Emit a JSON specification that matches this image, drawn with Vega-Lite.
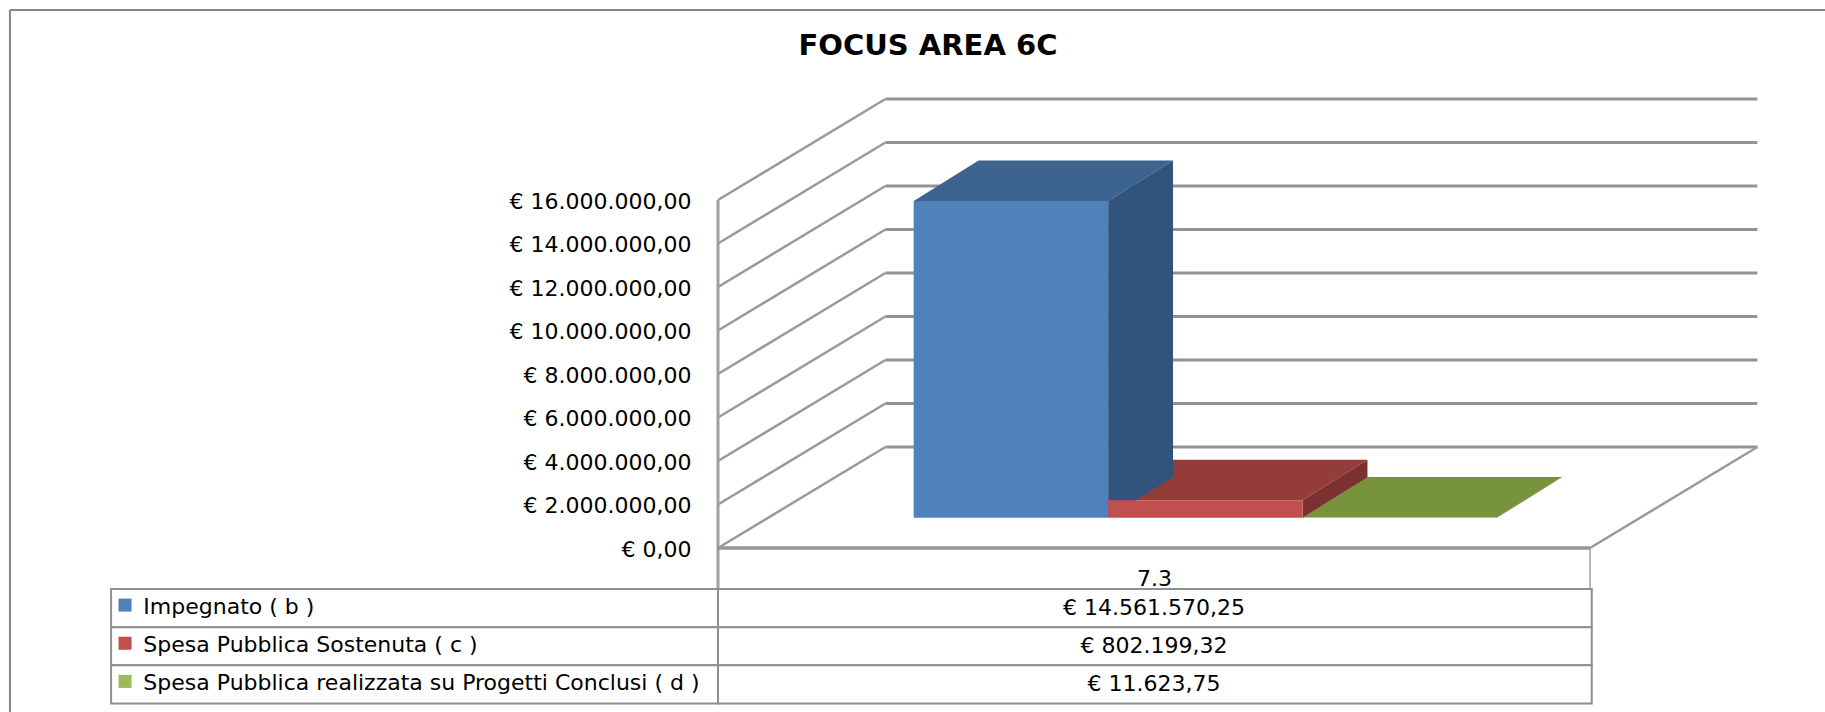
{"$schema":"https://vega.github.io/schema/vega-lite/v6.json","width":872,"height":348,"autosize":{"type":"none"},"padding":{"left":718,"top":200,"right":235,"bottom":164},"background":"white","title":{"text":"FOCUS AREA 6C","font":"DejaVu Sans","fontSize":29,"fontWeight":"bold","color":"black","anchor":"middle","dx":-226,"offset":-75,"baseline":"alphabetic"},"config":{"view":{"stroke":null},"locale":{"number":{"decimal":",","thousands":".","grouping":[3],"currency":["€ ",""]}}},"datasets":{"bars":[{"series":"Impegnato ( b )","value":14561570.25,"order":0},{"series":"Spesa Pubblica Sostenuta ( c )","value":802199.32,"order":1},{"series":"Spesa Pubblica realizzata su Progetti Conclusi ( d )","value":11623.75,"order":2}],"ticks":[{"tick":0},{"tick":2000000},{"tick":4000000},{"tick":6000000},{"tick":8000000},{"tick":10000000},{"tick":12000000},{"tick":14000000},{"tick":16000000}]},"layer":[{"layer":[{"data":{"name":"ticks"},"transform":[{"calculate":"datum.tick+4644000","as":"backY"}],"mark":{"type":"rule","color":"#939393","strokeWidth":3},"encoding":{"x":{"datum":0.192,"type":"quantitative","scale":{"domain":[0,1],"nice":false,"zero":false},"axis":{"values":[0.5],"labelExpr":"'7.3'","title":null,"ticks":false,"domain":false,"grid":false,"labelFont":"DejaVu Sans","labelFontSize":22,"labelColor":"black","labelPadding":20,"labelAngle":0}},"x2":{"datum":1.192},"y":{"field":"backY","type":"quantitative","scale":{"domain":[0,16000000],"nice":false,"zero":false},"axis":{"values":[0,2000000,4000000,6000000,8000000,10000000,12000000,14000000,16000000],"format":"$,.2f","title":null,"ticks":false,"domain":false,"grid":false,"labelFont":"DejaVu Sans","labelFontSize":22,"labelColor":"black","labelPadding":27,"labelOffset":1,"labelOverlap":false,"labelLimit":400}}}},{"data":{"name":"ticks"},"transform":[{"calculate":"datum.tick+4644000","as":"backY"}],"mark":{"type":"rule","color":"#9a9a9a","strokeWidth":2.5},"encoding":{"x":{"datum":0,"type":"quantitative"},"x2":{"datum":0.192},"y":{"field":"tick","type":"quantitative"},"y2":{"field":"backY"}}},{"data":{"values":[{"a":1}]},"mark":{"type":"rule","color":"#9a9a9a","strokeWidth":2.5},"encoding":{"x":{"datum":1,"type":"quantitative"},"x2":{"datum":1.192},"y":{"datum":0,"type":"quantitative"},"y2":{"datum":4644000}}},{"data":{"values":[{"a":1}]},"mark":{"type":"rule","color":"#a0a0a0","strokeWidth":3},"encoding":{"x":{"datum":0,"type":"quantitative"},"y":{"datum":16000000,"type":"quantitative"},"y2":{"datum":-1886000}}},{"data":{"values":[{"a":1}]},"mark":{"type":"rule","color":"#a0a0a0","strokeWidth":1.5},"encoding":{"x":{"datum":1,"type":"quantitative"},"y":{"datum":0,"type":"quantitative"},"y2":{"datum":-1886000}}},{"data":{"values":[{"a":1}]},"mark":{"type":"rule","color":"#969696","strokeWidth":3.5},"encoding":{"x":{"datum":0,"type":"quantitative"},"x2":{"datum":1},"y":{"datum":0,"type":"quantitative"}}},{"data":{"values":[{"a":1}]},"mark":{"type":"rule","color":"#868686","strokeWidth":2},"encoding":{"x":{"datum":-0.812,"type":"quantitative"},"x2":{"datum":1.27},"y":{"datum":24740000,"type":"quantitative"}}},{"data":{"values":[{"a":1}]},"mark":{"type":"rule","color":"#868686","strokeWidth":2},"encoding":{"x":{"datum":-0.812,"type":"quantitative"},"y":{"datum":24740000,"type":"quantitative"},"y2":{"datum":-7560000}}},{"data":{"name":"bars"},"transform":[{"calculate":"[0.3,0.7]","as":"z"},{"flatten":["z"]},{"calculate":"0.1686+0.223*datum.order+datum.z*0.186","as":"xL"},{"calculate":"datum.xL+0.223","as":"xR"},{"calculate":"datum.value+datum.z*4644000","as":"yT"},{"calculate":"datum.series+' top'","as":"face"}],"mark":{"type":"area","orient":"horizontal"},"encoding":{"y":{"field":"yT","type":"quantitative","stack":null},"x":{"field":"xL","type":"quantitative"},"x2":{"field":"xR"},"color":{"field":"face","type":"nominal","legend":null,"scale":{"domain":["Impegnato ( b ) front","Impegnato ( b ) top","Impegnato ( b ) side","Spesa Pubblica Sostenuta ( c ) front","Spesa Pubblica Sostenuta ( c ) top","Spesa Pubblica Sostenuta ( c ) side","Spesa Pubblica realizzata su Progetti Conclusi ( d ) front","Spesa Pubblica realizzata su Progetti Conclusi ( d ) top","Spesa Pubblica realizzata su Progetti Conclusi ( d ) side"],"range":["#4F81BD","#3D6491","#32547C","#C0504D","#943C39","#7A312F","#9BBB59","#77933C","#5F7530"]}}}},{"data":{"name":"bars"},"transform":[{"calculate":"[0.3,0.7]","as":"z"},{"flatten":["z"]},{"calculate":"0.1686+0.223*(datum.order+1)+datum.z*0.186","as":"xS"},{"calculate":"datum.z*4644000","as":"yB"},{"calculate":"datum.value+datum.z*4644000","as":"yT"},{"calculate":"datum.series+' side'","as":"face"}],"mark":{"type":"area","orient":"vertical"},"encoding":{"x":{"field":"xS","type":"quantitative"},"y":{"field":"yB","type":"quantitative","stack":null},"y2":{"field":"yT"},"color":{"field":"face","type":"nominal","legend":null}}},{"data":{"name":"bars"},"transform":[{"calculate":"0.1686+0.223*datum.order+0.3*0.186","as":"xL"},{"calculate":"datum.xL+0.223","as":"xR"},{"calculate":"0.3*4644000","as":"yB"},{"calculate":"datum.value+0.3*4644000","as":"yT"},{"calculate":"datum.series+' front'","as":"face"}],"mark":{"type":"rect"},"encoding":{"x":{"field":"xL","type":"quantitative"},"x2":{"field":"xR"},"y":{"field":"yB","type":"quantitative"},"y2":{"field":"yT"},"color":{"field":"face","type":"nominal","legend":null}}}]},{"layer":[{"data":{"name":"bars"},"transform":[{"calculate":"-0.696","as":"x0"},{"calculate":"0","as":"x1"}],"mark":{"type":"rect","fill":"white","stroke":"#8f8f8f","strokeWidth":2},"encoding":{"x":{"field":"x0","type":"quantitative"},"x2":{"field":"x1"},"y":{"field":"series","type":"nominal","sort":{"field":"order"},"axis":null,"scale":{"type":"band","domain":["Impegnato ( b )","Spesa Pubblica Sostenuta ( c )","Spesa Pubblica realizzata su Progetti Conclusi ( d )"],"range":[389,503.5],"paddingInner":0,"paddingOuter":0}}}},{"data":{"name":"bars"},"transform":[{"calculate":"0","as":"x0"},{"calculate":"1.002","as":"x1"}],"mark":{"type":"rect","fill":"white","stroke":"#8f8f8f","strokeWidth":2},"encoding":{"x":{"field":"x0","type":"quantitative"},"x2":{"field":"x1"},"y":{"field":"series","type":"nominal","axis":null}}},{"data":{"name":"bars"},"transform":[{"calculate":"datum.series+' front'","as":"face"},{"calculate":"-0.680","as":"sx"}],"mark":{"type":"point","shape":"square","filled":true,"opacity":1,"size":170,"yOffset":-3},"encoding":{"x":{"field":"sx","type":"quantitative"},"y":{"field":"series","type":"nominal","axis":null},"color":{"field":"face","type":"nominal","legend":null}}},{"data":{"name":"bars"},"transform":[{"calculate":"-0.659","as":"tx"}],"mark":{"type":"text","align":"left","baseline":"middle","font":"DejaVu Sans","fontSize":22,"color":"black","dy":-1,"limit":600},"encoding":{"x":{"field":"tx","type":"quantitative"},"y":{"field":"series","type":"nominal","axis":null},"text":{"field":"series","type":"nominal"}}},{"data":{"name":"bars"},"transform":[{"calculate":"0.5","as":"tx"}],"mark":{"type":"text","align":"center","baseline":"middle","font":"DejaVu Sans","fontSize":22,"color":"black"},"encoding":{"x":{"field":"tx","type":"quantitative"},"y":{"field":"series","type":"nominal","axis":null},"text":{"field":"value","type":"quantitative","format":"$,.2f"}}}]}],"resolve":{"scale":{"y":"independent"}}}
